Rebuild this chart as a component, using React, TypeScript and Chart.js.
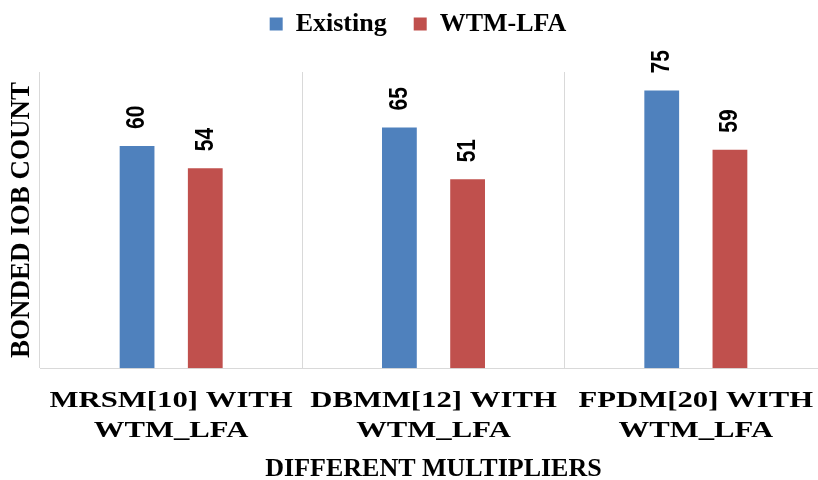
import { useEffect, useRef } from "react";
import Chart from "chart.js/auto";

const categories = [
  ["MRSM[10] WITH", "WTM_LFA"],
  ["DBMM[12] WITH", "WTM_LFA"],
  ["FPDM[20] WITH", "WTM_LFA"],
];
const existing = [60, 65, 75];
const wtmLfa = [54, 51, 59];
const seriesNames = ["Existing", "WTM-LFA"];
const seriesColors = ["#4f81bd", "#c0504d"];

const SERIF = "'Liberation Serif', 'Times New Roman', serif";
const SANS = "'Liberation Sans', Arial, sans-serif";

const TICK_SIZE = 24;
const TICK_LINE = 30;
const TICK_PAD = 18;

// values written rotated above each bar
const barLabels = {
  id: "barLabels",
  afterDatasetsDraw(chart: any) {
    const ctx = chart.ctx;
    ctx.save();
    ctx.font = `bold 21px ${SANS}`;
    ctx.fillStyle = "#000";
    ctx.textAlign = "left";
    ctx.textBaseline = "middle";
    chart.data.datasets.forEach((ds: any, i: number) => {
      chart.getDatasetMeta(i).data.forEach((bar: any, j: number) => {
        ctx.save();
        ctx.translate(bar.x, bar.y - 17);
        ctx.rotate(-Math.PI / 2);
        ctx.scale(1, 1.25);
        ctx.fillText(String(ds.data[j]), 0, 0);
        ctx.restore();
      });
    });
    ctx.restore();
  },
};

// category labels: the scale reserves the room (transparent ticks),
// this draws them wide like the original
const wideTicks = {
  id: "wideTicks",
  afterDraw(chart: any) {
    const scale = chart.scales.x;
    const ctx = chart.ctx;
    ctx.save();
    ctx.font = `bold ${TICK_SIZE}px ${SERIF}`;
    ctx.fillStyle = "#000";
    ctx.textAlign = "center";
    ctx.textBaseline = "middle";
    categories.forEach((lines, i) => {
      const x = scale.getPixelForTick(i);
      lines.forEach((line, k) => {
        const y = scale.top + TICK_PAD + TICK_LINE / 2 + k * TICK_LINE;
        ctx.save();
        ctx.translate(x, y);
        ctx.scale(1.28, 1);
        ctx.fillText(line, 0, 0);
        ctx.restore();
      });
    });
    ctx.restore();
  },
};

// extra room between legend and plot
const legendGap = {
  id: "legendGap",
  beforeInit(chart: any) {
    const legend = chart.legend;
    if (!legend) return;
    const fit = legend.fit;
    legend.fit = function () {
      fit.call(this);
      this.height += 25;
    };
  },
};

const App = () => {
  const chartRef = useRef<HTMLCanvasElement>(null);

  useEffect(() => {
    const ctx = chartRef.current?.getContext("2d");
    if (!ctx) return;

    const chart = new Chart(ctx, {
      type: "bar",
      plugins: [barLabels, wideTicks, legendGap],
      data: {
        labels: categories,
        datasets: [
          {
            label: seriesNames[0],
            data: existing,
            backgroundColor: seriesColors[0],
            borderWidth: 0,
            categoryPercentage: 0.52,
            barPercentage: 0.51,
          },
          {
            label: seriesNames[1],
            data: wtmLfa,
            backgroundColor: seriesColors[1],
            borderWidth: 0,
            categoryPercentage: 0.52,
            barPercentage: 0.51,
          },
        ],
      },
      options: {
        responsive: false,
        animation: false,
        layout: { padding: { top: -16, left: 9, right: 9, bottom: 0 } },
        plugins: {
          legend: {
            position: "top",
            labels: {
              font: { family: SERIF, size: 26, weight: "bold" },
              color: "#000",
              boxWidth: 13,
              boxHeight: 13,
              padding: 27,
            },
          },
          tooltip: { enabled: false },
        },
        scales: {
          x: {
            grid: { color: "#d9d9d9", drawTicks: false, offset: true },
            border: { color: "#d9d9d9" },
            ticks: {
              font: { family: SERIF, size: TICK_SIZE, weight: "bold", lineHeight: TICK_LINE / TICK_SIZE },
              color: "rgba(0,0,0,0)",
              padding: TICK_PAD,
              maxRotation: 0,
              autoSkip: false,
            },
            title: {
              display: true,
              text: "DIFFERENT MULTIPLIERS",
              font: { family: SERIF, size: 26, weight: "bold", lineHeight: 0.8 },
              color: "#000",
              padding: { top: -5, bottom: 0 },
            },
          },
          y: {
            min: 0,
            max: 80,
            grid: { display: false, drawTicks: false },
            border: { display: false },
            ticks: { display: false },
            title: {
              display: true,
              text: "BONDED IOB COUNT",
              font: { family: SERIF, size: 27, weight: "bold", lineHeight: 1 },
              color: "#000",
              padding: { top: 0, bottom: 4 },
            },
          },
        },
      },
    });

    return () => {
      chart.destroy();
    };
  }, []);

  return (
    <div
      style={{
        position: "fixed",
        left: 0,
        top: 0,
        width: 818,
        height: 480,
        overflow: "hidden",
        background: "#fff",
      }}
    >
      <canvas ref={chartRef} width={836} height={480} style={{ display: "block" }} />
    </div>
  );
};

export default App;
